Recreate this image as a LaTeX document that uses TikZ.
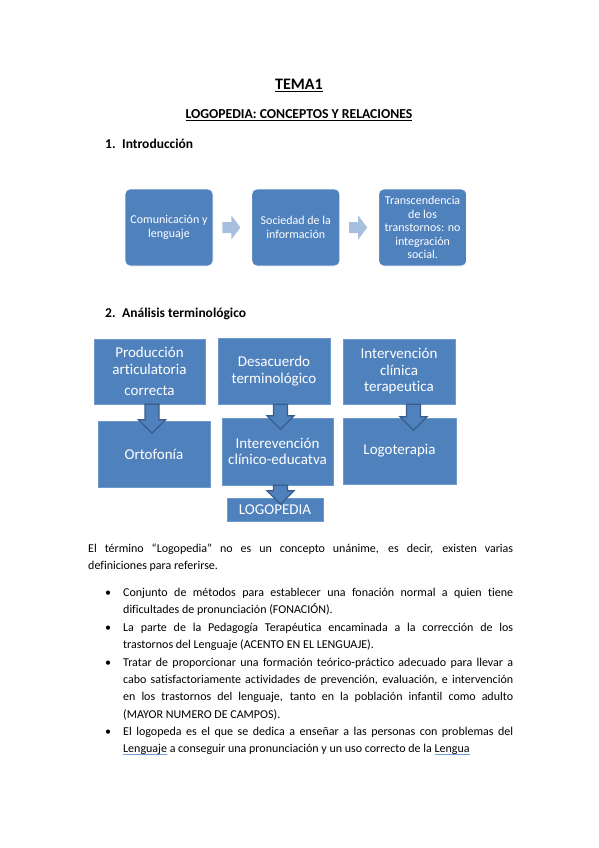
\documentclass[tikz,border=0pt]{standalone}
\usepackage{fontspec}
\setmainfont{Carlito}[Ligatures=NoCommon]
\usetikzlibrary{shapes, arrows, positioning}

\definecolor{boxblue}{HTML}{4F81BD}
\definecolor{edgeblue}{HTML}{385D8A}
\definecolor{rimblue}{HTML}{6F98CB}
\definecolor{paleblue}{HTML}{A7BFDE}
\definecolor{squigblue}{HTML}{6E9CD6}

\newsavebox{\spellbox}
\newcommand{\spellmark}[1]{\sbox{\spellbox}{#1}\rlap{\textcolor{squigblue}{\rule[-2.4pt]{\wd\spellbox}{0.9pt}}}\usebox{\spellbox}}
\hyphenpenalty=10000
\exhyphenpenalty=10000

\tikzset{
    pics/downblock/.style={code={
        \filldraw[fill=boxblue, draw=edgeblue, line width=1.2pt, line join=miter] (-7,0) -- (-7,#1-13.5) -- (-13.5,#1-13.5) -- (0,#1) -- (13.5,#1-13.5) -- (7,#1-13.5) -- (7,0) -- cycle;}},
    pics/rightblock/.style={code={
        \fill[paleblue] (0,-5.5) -- (9,-5.5) -- (9,-12) -- (18,0) -- (9,12) -- (9,5.5) -- (0,5.5) -- cycle;}}
}

\begin{document}
\begin{tikzpicture}[x=1pt, y=-1pt,
    introbox/.style={rectangle, rounded corners=5pt, fill=boxblue, draw=white, line width=0.8pt, minimum width=88pt, minimum height=77pt, align=center, text=white, inner sep=1pt, font=\fontsize{12}{13.5}\selectfont},
    secbox/.style={rectangle, fill=boxblue, draw=rimblue, line width=0.6pt, align=center, text=white, inner sep=2pt, font=\fontsize{15}{16.5}\selectfont},
    heading/.style={inner sep=0pt, font=\fontsize{13.5}{16}\selectfont\bfseries},
    bodytext/.style={inner sep=0pt, text width=425pt, align=justify, anchor=base west, font=\fontsize{12}{17.4}\selectfont},
    itemtext/.style={bodytext, text width=390pt}]
    \useasboundingbox (0,0) rectangle (599,848);

    % Titles
    \node (title) [inner sep=0pt, anchor=base, font=\fontsize{16}{19}\selectfont\bfseries] at (299,89.5) {\underline{TEMA1}};
    \node (subtitle) [heading, anchor=base, font=\fontsize{13.7}{16}\selectfont\bfseries] at (299,118.5) {\underline{LOGOPEDIA: CONCEPTOS Y RELACIONES}};
    \node (secintro) [heading, anchor=base west] at (105,148.5) {\makebox[17pt][l]{1.}Introducción};

    % Intro row
    \node (comunic) [introbox] at (169,227.5) {Comunicación y\\ lenguaje};
    \node (sociedad) [introbox, right=38pt of comunic] {Sociedad de la\\ información};
    \node (trasc) [introbox, right=38pt of sociedad] {Transcendencia\\ de los\\ transtornos: no\\ integración\\ social.};
    \pic at ([xshift=9pt]comunic.east) {rightblock};
    \pic at ([xshift=9pt]sociedad.east) {rightblock};

    \node (secterm) [heading, anchor=base west] at (105,317.5) {\makebox[17pt][l]{2.}Análisis terminológico};

    % Terminology boxes
    \node (produccion) [secbox, minimum width=111pt, minimum height=65pt] at (149.5,371.5) {Producción\\ articulatoria\\[5pt] correcta};
    \node (desacuerdo) [secbox, minimum width=112pt, minimum height=66pt] at (274,371) {Desacuerdo\\ terminológico};
    \node (clinica) [secbox, minimum width=112pt, minimum height=65pt] at (399,371.5) {Intervención\\ clínica\\ terapeutica};
    \node (ortofonia) [secbox, minimum width=112pt, minimum height=66pt] at (154,454) {Ortofonía};
    \node (educativa) [secbox, minimum width=111pt, minimum height=67pt] at (277.5,451.5) {Interevención\\ clínico-educatva};
    \node (logoterapia) [secbox, minimum width=113pt, minimum height=66pt] at (399.5,451) {Logoterapia};
    \node (logopedia) [secbox, minimum width=96pt, minimum height=23pt, inner sep=0pt] at (275,509.5) {LOGOPEDIA};

    % Down arrows
    \pic at ([xshift=2.5pt]produccion.south) {downblock=29};
    \pic at ([xshift=6.5pt]desacuerdo.south) {downblock=25};
    \pic at ([xshift=3pt]educativa.south) {downblock=19};
    \pic at ([xshift=14.5pt]clinica.south) {downblock=26};

    % Text
    \node (parrafo) [bodytext] at (88,552) {El término “Logopedia” no es un concepto unánime, es decir, existen varias\linebreak definiciones para referirse.};
    \node (fonacion) [itemtext] at (123,596) {\leavevmode\llap{\textbullet\hspace{12pt}}Conjunto de métodos para establecer una fonación normal a quien tiene\linebreak dificultades de pronunciación (FONACIÓN).};
    \node (pedagogia) [itemtext] at (123,631) {\leavevmode\llap{\textbullet\hspace{12pt}}La parte de la Pedagogía Terapéutica encaminada a la corrección de los\linebreak trastornos del Lenguaje (ACENTO EN EL LENGUAJE).};
    \node (formacion) [itemtext] at (123,666) {\leavevmode\llap{\textbullet\hspace{12pt}}Tratar de proporcionar una formación teórico-práctico adecuado para llevar a\linebreak cabo satisfactoriamente actividades de prevención, evaluación, e intervención\linebreak en los trastornos del lenguaje, tanto en la población infantil como adulto\linebreak (MAYOR NUMERO DE CAMPOS).};
    \node (logopeda) [itemtext] at (123,735) {\leavevmode\llap{\textbullet\hspace{12pt}}El logopeda es el que se dedica a enseñar a las personas con problemas del\linebreak \spellmark{Lenguaje} a conseguir una pronunciación y un uso correcto de la \spellmark{Lengua}};
\end{tikzpicture}
\end{document}
